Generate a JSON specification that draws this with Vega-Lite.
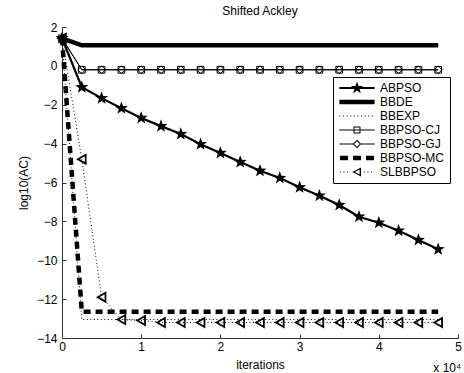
{
  "$schema": "https://vega.github.io/schema/vega-lite/v6.json",
  "width": 396,
  "height": 311,
  "autosize": {"type": "none"},
  "padding": {"left": 62, "top": 27, "right": 6, "bottom": 35},
  "background": "white",
  "title": {"text": "Shifted Ackley", "fontSize": 12, "fontWeight": "normal", "font": "Liberation Sans", "color": "black", "offset": 3, "frame": "group"},
  "config": {
    "view": {"stroke": null},
    "font": "Liberation Sans",
    "axis": {"labelOverlap": false},
    "axisY": {"labelOverlap": false},
    "axisLeft": {"labelOverlap": false},
    "legend": {
      "orient": "none", "legendX": 271, "legendY": 50, "padding": 5,
      "strokeColor": "black", "fillColor": "white", "cornerRadius": 0,
      "labelFont": "Liberation Sans", "labelFontSize": 12, "labelColor": "black",
      "symbolSize": 64, "symbolOffset": 13, "labelOffset": 17, "rowPadding": 2,
      "symbolOpacity": 1, "symbolStrokeWidth": 0, "symbolFillColor": "black"
    }
  },
  "data": {
    "values": [
      {"it": 0, "ABPSO": 1.42, "BBDE": 1.42, "BBEXP": 1.42, "BBPSO-CJ": 1.42, "BBPSO-GJ": 1.42, "BBPSO-MC": 1.42, "SLBBPSO": 1.42},
      {"it": 2500, "ABPSO": -1.10, "BBDE": 1.06, "BBEXP": -13.05, "BBPSO-CJ": -0.2, "BBPSO-GJ": -0.2, "BBPSO-MC": -12.65, "SLBBPSO": -4.8},
      {"it": 5000, "ABPSO": -1.66, "BBDE": 1.06, "BBEXP": -13.05, "BBPSO-CJ": -0.2, "BBPSO-GJ": -0.2, "BBPSO-MC": -12.65, "SLBBPSO": -11.9},
      {"it": 7500, "ABPSO": -2.18, "BBDE": 1.06, "BBEXP": -13.05, "BBPSO-CJ": -0.2, "BBPSO-GJ": -0.2, "BBPSO-MC": -12.65, "SLBBPSO": -13.05},
      {"it": 10000, "ABPSO": -2.68, "BBDE": 1.06, "BBEXP": -13.05, "BBPSO-CJ": -0.2, "BBPSO-GJ": -0.2, "BBPSO-MC": -12.65, "SLBBPSO": -13.1},
      {"it": 12500, "ABPSO": -3.10, "BBDE": 1.06, "BBEXP": -13.05, "BBPSO-CJ": -0.2, "BBPSO-GJ": -0.2, "BBPSO-MC": -12.65, "SLBBPSO": -13.2},
      {"it": 15000, "ABPSO": -3.51, "BBDE": 1.06, "BBEXP": -13.05, "BBPSO-CJ": -0.2, "BBPSO-GJ": -0.2, "BBPSO-MC": -12.65, "SLBBPSO": -13.2},
      {"it": 17500, "ABPSO": -4.03, "BBDE": 1.06, "BBEXP": -13.05, "BBPSO-CJ": -0.2, "BBPSO-GJ": -0.2, "BBPSO-MC": -12.65, "SLBBPSO": -13.2},
      {"it": 20000, "ABPSO": -4.48, "BBDE": 1.06, "BBEXP": -13.05, "BBPSO-CJ": -0.2, "BBPSO-GJ": -0.2, "BBPSO-MC": -12.65, "SLBBPSO": -13.2},
      {"it": 22500, "ABPSO": -4.95, "BBDE": 1.06, "BBEXP": -13.05, "BBPSO-CJ": -0.2, "BBPSO-GJ": -0.2, "BBPSO-MC": -12.65, "SLBBPSO": -13.2},
      {"it": 25000, "ABPSO": -5.40, "BBDE": 1.06, "BBEXP": -13.05, "BBPSO-CJ": -0.2, "BBPSO-GJ": -0.2, "BBPSO-MC": -12.65, "SLBBPSO": -13.2},
      {"it": 27500, "ABPSO": -5.77, "BBDE": 1.06, "BBEXP": -13.05, "BBPSO-CJ": -0.2, "BBPSO-GJ": -0.2, "BBPSO-MC": -12.65, "SLBBPSO": -13.2},
      {"it": 30000, "ABPSO": -6.25, "BBDE": 1.06, "BBEXP": -13.05, "BBPSO-CJ": -0.2, "BBPSO-GJ": -0.2, "BBPSO-MC": -12.65, "SLBBPSO": -13.2},
      {"it": 32500, "ABPSO": -6.68, "BBDE": 1.06, "BBEXP": -13.05, "BBPSO-CJ": -0.2, "BBPSO-GJ": -0.2, "BBPSO-MC": -12.65, "SLBBPSO": -13.2},
      {"it": 35000, "ABPSO": -7.16, "BBDE": 1.06, "BBEXP": -13.05, "BBPSO-CJ": -0.2, "BBPSO-GJ": -0.2, "BBPSO-MC": -12.65, "SLBBPSO": -13.2},
      {"it": 37500, "ABPSO": -7.76, "BBDE": 1.06, "BBEXP": -13.05, "BBPSO-CJ": -0.2, "BBPSO-GJ": -0.2, "BBPSO-MC": -12.65, "SLBBPSO": -13.2},
      {"it": 40000, "ABPSO": -8.07, "BBDE": 1.06, "BBEXP": -13.05, "BBPSO-CJ": -0.2, "BBPSO-GJ": -0.2, "BBPSO-MC": -12.65, "SLBBPSO": -13.2},
      {"it": 42500, "ABPSO": -8.48, "BBDE": 1.06, "BBEXP": -13.05, "BBPSO-CJ": -0.2, "BBPSO-GJ": -0.2, "BBPSO-MC": -12.65, "SLBBPSO": -13.2},
      {"it": 45000, "ABPSO": -8.96, "BBDE": 1.06, "BBEXP": -13.05, "BBPSO-CJ": -0.2, "BBPSO-GJ": -0.2, "BBPSO-MC": -12.65, "SLBBPSO": -13.2},
      {"it": 47500, "ABPSO": -9.44, "BBDE": 1.06, "BBEXP": -13.05, "BBPSO-CJ": -0.2, "BBPSO-GJ": -0.2, "BBPSO-MC": -12.65, "SLBBPSO": -13.2}
    ]
  },
  "transform": [{"fold": ["ABPSO", "BBDE", "BBEXP", "BBPSO-CJ", "BBPSO-GJ", "BBPSO-MC", "SLBBPSO"], "as": ["series", "v"]}],
  "encoding": {
    "x": {
      "field": "it", "type": "quantitative",
      "scale": {"domain": [0, 50000], "nice": false, "zero": false},
      "axis": {"values": [0, 10000, 20000, 30000, 40000, 50000], "labelExpr": "datum.value/10000", "tickSize": -4, "grid": false, "title": "iterations", "titleFontWeight": "normal", "titleFontSize": 12, "titleFont": "Liberation Sans", "labelFont": "Liberation Sans", "labelFontSize": 12, "labelPadding": 7, "titlePadding": 7, "domainColor": "#333333", "tickColor": "#333333", "labelColor": "black", "titleColor": "black", "labelFlush": false, "labelOverlap": false}
    },
    "y": {
      "field": "v", "type": "quantitative",
      "scale": {"domain": [-14, 2], "nice": false, "zero": false},
      "axis": {"values": [-14, -12, -10, -8, -6, -4, -2, 0, 2], "tickCount": 9, "tickSize": -4, "grid": false, "title": "log10(AC)", "titleFontWeight": "normal", "titleFontSize": 12, "titleFont": "Liberation Sans", "labelFont": "Liberation Sans", "labelFontSize": 12, "labelPadding": 9, "titlePadding": 6, "domainColor": "#333333", "tickColor": "#333333", "labelColor": "black", "titleColor": "black", "labelFlush": false, "labelOverlap": false}
    }
  },
  "layer": [
    {
      "transform": [{"filter": "datum.series==='BBPSO-CJ' || datum.series==='BBPSO-GJ'"}],
      "mark": {"type": "line", "color": "black", "strokeWidth": 1, "opacity": 1},
      "encoding": {"detail": {"field": "series"}}
    },
    {
      "transform": [{"filter": "datum.series==='BBEXP' || datum.series==='SLBBPSO'"}],
      "mark": {"type": "line", "color": "black", "strokeWidth": 1, "strokeDash": [1, 2.5], "opacity": 1},
      "encoding": {"detail": {"field": "series"}}
    },
    {
      "transform": [{"filter": "datum.series==='BBDE'"}],
      "mark": {"type": "line", "color": "black", "strokeWidth": 4.5, "opacity": 1},
      "encoding": {}
    },
    {
      "transform": [{"filter": "datum.series==='BBPSO-MC'"}],
      "mark": {"type": "line", "color": "black", "strokeWidth": 4.5, "strokeDash": [7, 5], "opacity": 1},
      "encoding": {}
    },
    {
      "transform": [{"filter": "datum.series==='ABPSO'"}],
      "mark": {"type": "line", "color": "black", "strokeWidth": 2.2, "opacity": 1},
      "encoding": {}
    },
    {
      "transform": [{"filter": "datum.series==='BBPSO-CJ'"}],
      "mark": {"type": "point", "shape": "square", "filled": false, "color": "black", "strokeWidth": 1, "size": 45, "opacity": 1}
    },
    {
      "transform": [{"filter": "datum.series==='BBPSO-GJ'"}],
      "mark": {"type": "point", "shape": "diamond", "filled": false, "color": "black", "strokeWidth": 1, "size": 60, "opacity": 1}
    },
    {
      "transform": [{"filter": "datum.series==='SLBBPSO'"}],
      "mark": {"type": "point", "shape": "triangle-left", "filled": false, "color": "black", "strokeWidth": 1.8, "size": 80, "opacity": 1}
    },
    {
      "transform": [{"filter": "datum.series==='ABPSO'"}],
      "mark": {"type": "point", "shape": "M0,-1L0.24,-0.33L0.95,-0.31L0.39,0.13L0.59,0.81L0,0.41L-0.59,0.81L-0.39,0.13L-0.95,-0.31L-0.24,-0.33Z", "filled": true, "color": "black", "size": 185, "opacity": 1}
    },
    {
      "transform": [{"filter": "datum.it===0"}],
      "mark": {"type": "point", "filled": true, "color": "black", "size": 64, "opacity": 0},
      "encoding": {
        "shape": {
          "field": "series", "type": "nominal",
          "scale": {"domain": ["ABPSO", "BBDE", "BBEXP", "BBPSO-CJ", "BBPSO-GJ", "BBPSO-MC", "SLBBPSO"], "range": [
            "M-4.4,-0.25H4.4V0.25H-4.4ZM0,-1.6L0.38,-0.53L1.52,-0.49L0.62,0.2L0.94,1.29L0,0.65L-0.94,1.29L-0.62,0.2L-1.52,-0.49L-0.38,-0.53Z",
            "M-4.4,-0.56H4.4V0.56H-4.4Z",
            "M-4.4,-0.125h0.25v0.25h-0.25ZM-3.5,-0.125h0.25v0.25h-0.25ZM-2.6,-0.125h0.25v0.25h-0.25ZM-1.7,-0.125h0.25v0.25h-0.25ZM-0.8,-0.125h0.25v0.25h-0.25ZM0.1,-0.125h0.25v0.25h-0.25ZM1.0,-0.125h0.25v0.25h-0.25ZM1.9,-0.125h0.25v0.25h-0.25ZM2.8,-0.125h0.25v0.25h-0.25ZM3.7,-0.125h0.25v0.25h-0.25Z",
            "M-4.4,-0.125H4.4V0.125H-4.4ZM-0.875,-0.875H0.875V0.875H-0.875ZM-0.625,-0.625V0.625H0.625V-0.625Z",
            "M-4.4,-0.125H-1.0V0.125H-4.4ZM1.0,-0.125H4.4V0.125H1.0ZM0,-1.05L1.05,0L0,1.05L-1.05,0ZM0,-0.7L-0.7,0L0,0.7L0.7,0Z",
            "M-4.25,-0.56H-2.25V0.56H-4.25ZM-1,-0.56H1V0.56H-1ZM2.25,-0.56H4.25V0.56H2.25Z",
            "M-4.3,-0.125h0.25v0.25h-0.25ZM-3.4,-0.125h0.25v0.25h-0.25ZM-2.5,-0.125h0.25v0.25h-0.25ZM1.7,-0.125h0.25v0.25h-0.25ZM2.6,-0.125h0.25v0.25h-0.25ZM3.5,-0.125h0.25v0.25h-0.25ZM-1.2,0L1.0,-1.1L1.0,1.1ZM-0.55,0L0.65,0.6L0.65,-0.6Z"
          ]},
          "legend": {"title": null}
        }
      }
    },
    {
      "transform": [{"filter": "datum.series==='SLBBPSO' && datum.it===47500"}],
      "mark": {"type": "text", "text": "x 10⁴", "align": "right", "baseline": "middle", "dx": 23, "dy": 46, "fontSize": 12, "font": "Liberation Sans", "color": "black"}
    }
  ]
}
